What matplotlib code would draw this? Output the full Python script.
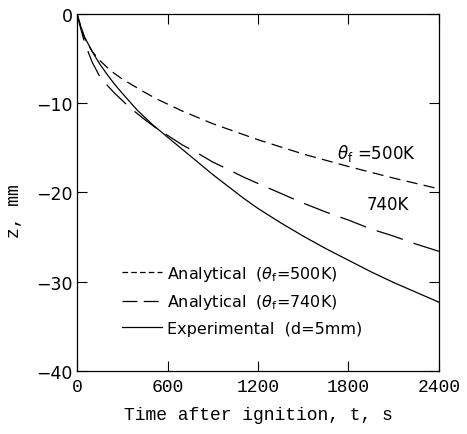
import numpy as np
import matplotlib
matplotlib.use("Agg")
import matplotlib.pyplot as plt
from matplotlib.lines import Line2D

# time after ignition t (s) and regression depth z (mm)
t_500 = [0, 25, 50, 100, 150, 200, 250, 300, 350, 450, 525, 600, 700, 800, 900,
         1000, 1200, 1350, 1500, 1650, 1800, 1950, 2100, 2250, 2400]
z_500 = [0, -1.5, -2.7, -4.2, -5.2, -6.0, -6.7, -7.3, -7.8, -8.8, -9.5, -10.1, -10.9,
         -11.6, -12.3, -12.9, -14.1, -14.9, -15.7, -16.4, -17.1, -17.75, -18.4, -19.0, -19.6]

t_740 = [0, 25, 50, 100, 150, 200, 250, 300, 350, 450, 525, 600, 700, 800, 900,
         1000, 1100, 1200, 1350, 1500, 1650, 1800, 1950, 2100, 2250, 2400]
z_740 = [0, -1.7, -3.2, -5.4, -7.0, -8.0, -8.9, -9.7, -10.5, -11.85, -12.8, -13.6, -14.7,
         -15.6, -16.6, -17.4, -18.25, -19.0, -20.1, -21.2, -22.2, -23.1, -24.1, -24.9,
         -25.8, -26.6]

t_exp = [0, 25, 50, 100, 150, 200, 250, 300, 400, 500, 600, 700, 800, 900, 1000,
         1100, 1200, 1350, 1500, 1650, 1800, 1950, 2100, 2250, 2400]
z_exp = [0, -1.4, -2.6, -4.2, -5.6, -6.8, -7.9, -8.9, -10.8, -12.4, -13.8, -15.2, -16.6,
         -18.0, -19.3, -20.6, -21.8, -23.4, -24.9, -26.3, -27.6, -28.9, -30.1, -31.2, -32.3]

x_ticks = [0, 600, 1200, 1800, 2400]
y_ticks = [0, -10, -20, -30, -40]

labels = [r"Analytical  ($\theta_{\rm f}$=500K)",
          r"Analytical  ($\theta_{\rm f}$=740K)",
          "Experimental  (d=5mm)"]

plt.rcParams["mathtext.fontset"] = "dejavusans"

fig = plt.figure(figsize=(4.67, 4.35), dpi=100)
ax = fig.add_axes([0.165, 0.145, 0.775, 0.8207])

lw = 0.9
ax.plot(t_500, z_500, color="black", lw=lw, dashes=(9, 5))
ax.plot(t_740, z_740, color="black", lw=lw, dashes=(22, 9))
ax.plot(t_exp, z_exp, color="black", lw=lw)

ax.set_xlim(0, 2400)
ax.set_ylim(-40, 0)
ax.set_xticks(x_ticks)
ax.set_yticks(y_ticks)
ax.set_xticklabels([str(v) for v in x_ticks], family="Liberation Mono", fontsize=13)
ax.set_yticklabels([str(v).replace("-", "\u2212") for v in y_ticks], fontsize=12.5)
ax.tick_params(direction="in", length=7, width=0.8, top=True, right=True, pad=3)
ax.tick_params(axis="x", pad=5)
for s in ax.spines.values():
    s.set_linewidth(0.9)

ax.set_xlabel("Time after ignition, t, s", family="Liberation Mono", fontsize=13, labelpad=8)
ax.set_ylabel("z, mm", family="Liberation Mono", fontsize=13)
ax.yaxis.set_label_coords(-0.15, 0.45)

ax.text(1724, -15.5, r"$\theta_{\rm f}$ =500K", fontsize=12, va="center", ha="left")
ax.text(1923, -21.3, "740K", fontsize=12, va="center", ha="left")

# legend keys drawn with shorter dashes, as in the original figure
handles = [Line2D([], [], color="black", lw=lw, dashes=(4.5, 2.5)),
           Line2D([], [], color="black", lw=lw, dashes=(12, 5)),
           Line2D([], [], color="black", lw=lw)]
ax.legend(handles, labels, loc="upper left", bbox_to_anchor=(0.125, 0.30), frameon=False,
          fontsize=11.5, handlelength=2.5, handletextpad=0.3, labelspacing=0.6,
          borderpad=0, borderaxespad=0)

fig.savefig("out.png", dpi=100)
